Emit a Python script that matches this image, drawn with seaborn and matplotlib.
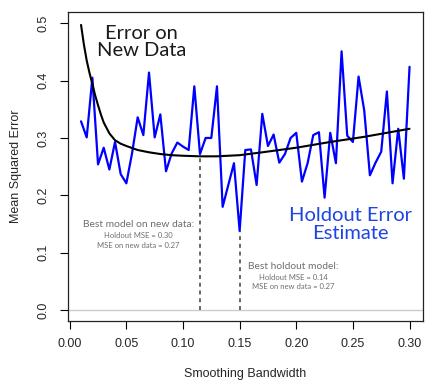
import numpy as np
import pandas as pd
import matplotlib
matplotlib.use("Agg")
import matplotlib.pyplot as plt
import seaborn as sns

# Holdout error estimate (blue), bandwidth grid 0.010..0.300 step 0.005
bandwidth = [0.010, 0.015, 0.020, 0.025, 0.030, 0.035, 0.040, 0.045, 0.050, 0.055,
             0.060, 0.065, 0.070, 0.075, 0.080, 0.085, 0.090, 0.095, 0.100, 0.105,
             0.110, 0.115, 0.120, 0.125, 0.130, 0.135, 0.140, 0.145, 0.150, 0.155,
             0.160, 0.165, 0.170, 0.175, 0.180, 0.185, 0.190, 0.195, 0.200, 0.205,
             0.210, 0.215, 0.220, 0.225, 0.230, 0.235, 0.240, 0.245, 0.250, 0.255,
             0.260, 0.265, 0.270, 0.275, 0.280, 0.285, 0.290, 0.295, 0.300]
holdout_mse = [0.329, 0.301, 0.405, 0.254, 0.283, 0.245, 0.293, 0.237, 0.221, 0.273,
               0.336, 0.305, 0.414, 0.301, 0.341, 0.242, 0.273, 0.292, 0.285, 0.279,
               0.390, 0.272, 0.300, 0.300, 0.390, 0.180, 0.218, 0.256, 0.138, 0.279,
               0.280, 0.218, 0.342, 0.286, 0.306, 0.257, 0.272, 0.300, 0.309, 0.224,
               0.256, 0.305, 0.310, 0.196, 0.309, 0.256, 0.451, 0.304, 0.293, 0.407,
               0.348, 0.235, 0.257, 0.276, 0.381, 0.221, 0.316, 0.229, 0.424]

# Error on new data (black curve)
curve_bw = [0.010, 0.0125, 0.015, 0.0175, 0.020, 0.0225, 0.025, 0.0275, 0.030, 0.035,
            0.040, 0.045, 0.050, 0.060, 0.070, 0.080, 0.090, 0.100, 0.115, 0.130,
            0.150, 0.170, 0.200, 0.230, 0.260, 0.300]
curve_mse = [0.497, 0.463, 0.435, 0.413, 0.394, 0.374, 0.357, 0.341, 0.327, 0.308,
             0.296, 0.290, 0.286, 0.279, 0.275, 0.272, 0.270, 0.269, 0.268, 0.268,
             0.270, 0.275, 0.283, 0.293, 0.302, 0.316]

best_new_bw, best_new_mse = 0.115, 0.268
best_hold_bw, best_hold_mse = 0.150, 0.138

xticks = [0.00, 0.05, 0.10, 0.15, 0.20, 0.25, 0.30]
yticks = [0.0, 0.1, 0.2, 0.3, 0.4, 0.5]

sns.set_theme(style="white")
plt.rcParams['font.family'] = ['Liberation Sans', 'DejaVu Sans']

fig = plt.figure(figsize=(4.47, 3.84), dpi=100)
ax = fig.add_axes([0.1514, 0.164, 0.7942, 0.8055])

ax.axhline(0, color="#cccccc", lw=1.0, zorder=1)

hold_df = pd.DataFrame({"bw": bandwidth, "mse": holdout_mse})
curve_df = pd.DataFrame({"bw": curve_bw, "mse": curve_mse})
sns.lineplot(data=hold_df, x="bw", y="mse", color="#0000ff", lw=1.6, ax=ax, zorder=3)
sns.lineplot(data=curve_df, x="bw", y="mse", color="black", lw=1.5, ax=ax, zorder=4)

ax.vlines([best_new_bw, best_hold_bw], 0, [best_new_mse, best_hold_mse],
          colors="#666666", linestyles=(0, (2, 2)), lw=1.4, zorder=2)

ax.set_xlim(-0.0018, 0.3116)
ax.set_ylim(-0.019, 0.52)
ax.set_xticks(xticks)
ax.set_xticklabels([f"{t:.2f}" for t in xticks], fontsize=9)
ax.set_yticks(yticks)
ax.set_yticklabels([f"{t:.1f}" for t in yticks], fontsize=9, rotation=90, va="center")
ax.tick_params(axis="both", direction="out", length=6, width=0.8, color="black",
               bottom=True, left=True)
ax.tick_params(axis="x", pad=6)
ax.tick_params(axis="y", pad=7)
for s in ax.spines.values():
    s.set_color("#222222")
    s.set_linewidth(0.9)
ax.set_xlabel("Smoothing Bandwidth", fontsize=9, labelpad=13)
ax.set_ylabel("Mean Squared Error", fontsize=9, labelpad=11)

afont = ['Lato', 'DejaVu Sans']
gray = "#6e6e6e"
w = 400
ax.text(0.0636, 0.467, "Error on\nNew Data", ha="center", va="center",
        fontsize=14.5, family=afont, fontweight=w, color="#1a1a1a", linespacing=1.05)
ax.text(0.248, 0.149, "Holdout Error\nEstimate", ha="center", va="center",
        fontsize=14.5, family=afont, fontweight=w, color="#1f45e0", linespacing=1.05)
ax.text(0.0606, 0.150, "Best model on new data:", ha="center", va="center",
        fontsize=7.4, family=afont, fontweight=w, color=gray)
ax.text(0.0606, 0.130, "Holdout MSE = 0.30", ha="center", va="center",
        fontsize=5.5, family=afont, fontweight=w, color=gray)
ax.text(0.0606, 0.113, "MSE on new data = 0.27", ha="center", va="center",
        fontsize=5.5, family=afont, fontweight=w, color=gray)
ax.text(0.1974, 0.0767, "Best holdout model:", ha="center", va="center",
        fontsize=7.4, family=afont, fontweight=w, color=gray)
ax.text(0.1974, 0.057, "Holdout MSE = 0.14", ha="center", va="center",
        fontsize=5.5, family=afont, fontweight=w, color=gray)
ax.text(0.1974, 0.0406, "MSE on new data = 0.27", ha="center", va="center",
        fontsize=5.5, family=afont, fontweight=w, color=gray)

fig.savefig("out.png", dpi=100)
